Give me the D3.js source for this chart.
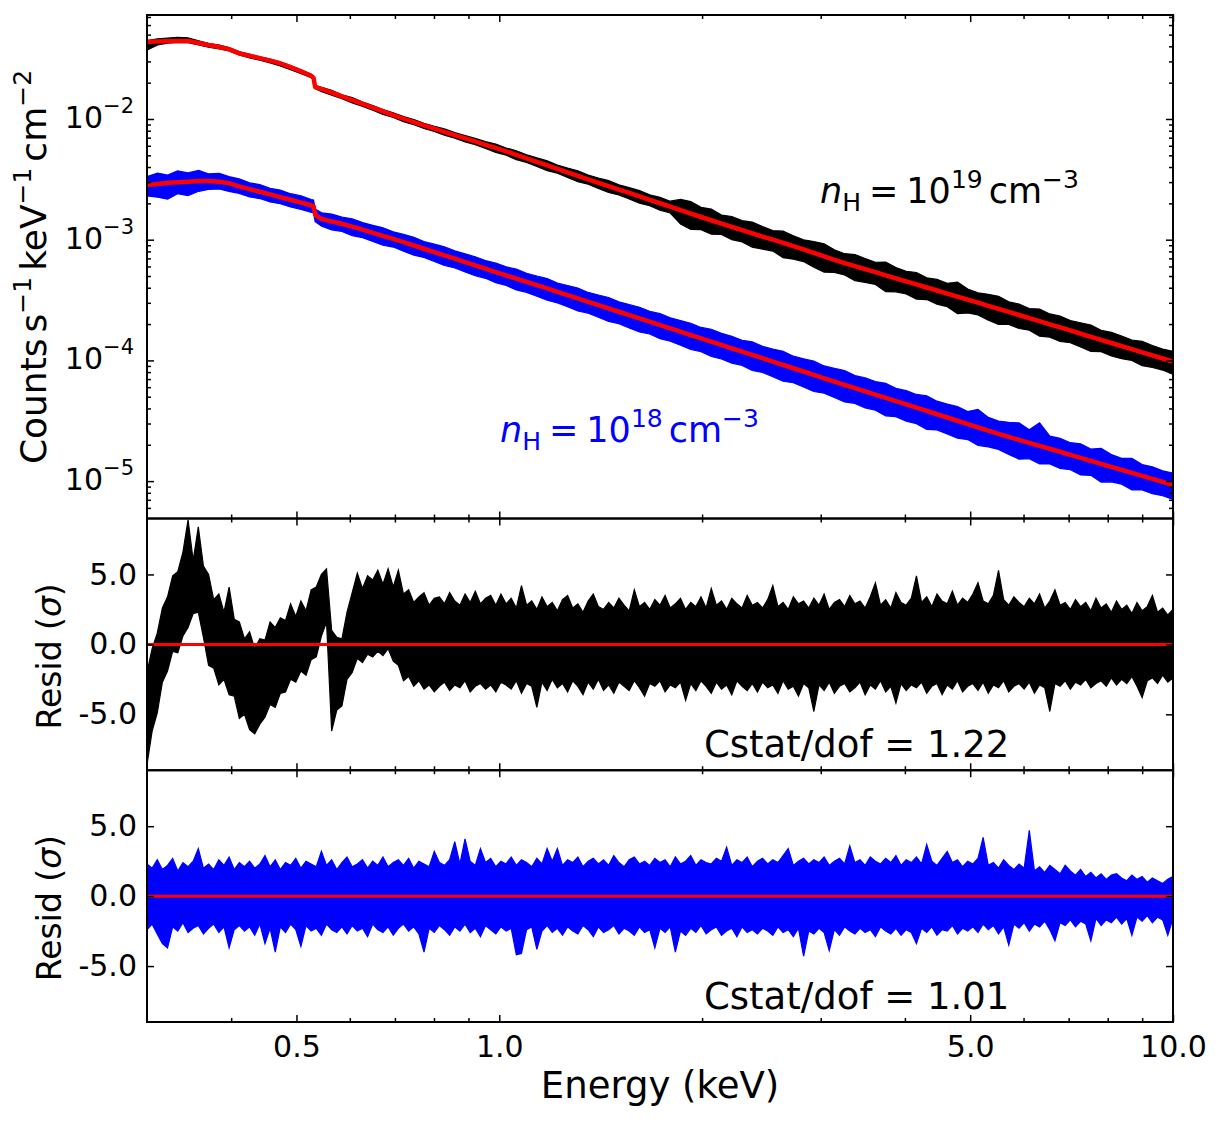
<!DOCTYPE html>
<html>
<head>
<meta charset="utf-8">
<script src="https://cdn.jsdelivr.net/npm/d3@7"></script>
<style>
  body { margin: 0; background: #fff; }
  text { font-family: "DejaVu Sans", sans-serif; }
</style>
</head>
<body>
<svg id="chart" width="1226" height="1123"></svg>
<script>
// energy grid of the spectra (keV), two extra points bracket the 0.532 keV edge
const energy = [
  0.300, 0.311, 0.322, 0.333, 0.345, 0.358, 0.370, 0.384, 0.397, 0.411,
  0.426, 0.441, 0.457, 0.473, 0.490, 0.508, 0.526, 0.530, 0.533, 0.545,
  0.564, 0.584, 0.605, 0.627, 0.649, 0.672, 0.696, 0.721, 0.747, 0.773,
  0.801, 0.829, 0.859, 0.890, 0.921, 0.954, 0.988, 1.024, 1.060, 1.098,
  1.137, 1.178, 1.220, 1.263, 1.308, 1.355, 1.403, 1.453, 1.505, 1.559,
  1.615, 1.672, 1.732, 1.794, 1.858, 1.924, 1.993, 2.064, 2.137, 2.214,
  2.293, 2.374, 2.459, 2.547, 2.638, 2.732, 2.829, 2.930, 3.035, 3.143,
  3.255, 3.372, 3.492, 3.617, 3.746, 3.879, 4.018, 4.161, 4.310, 4.463,
  4.623, 4.788, 4.958, 5.135, 5.319, 5.508, 5.705, 5.909, 6.119, 6.338,
  6.564, 6.798, 7.041, 7.292, 7.552, 7.822, 8.101, 8.390, 8.689, 8.999,
  9.320, 9.653, 10.00
];

// model, log10(counts s^-1 keV^-1 cm^-2), nH = 1e19
const blackModelLog = [
  -1.360, -1.357, -1.355, -1.353, -1.353, -1.370, -1.387, -1.404, -1.421, -1.456,
  -1.476, -1.496, -1.516, -1.538, -1.571, -1.606, -1.642, -1.659, -1.735, -1.753,
  -1.781, -1.813, -1.843, -1.875, -1.906, -1.937, -1.968, -1.998, -2.026, -2.053,
  -2.080, -2.106, -2.133, -2.160, -2.186, -2.214, -2.240, -2.268, -2.297, -2.326,
  -2.355, -2.384, -2.413, -2.442, -2.471, -2.500, -2.529, -2.557, -2.585, -2.613,
  -2.642, -2.670, -2.698, -2.727, -2.756, -2.784, -2.812, -2.839, -2.866, -2.893,
  -2.920, -2.947, -2.974, -3.000, -3.027, -3.054, -3.081, -3.109, -3.138, -3.167,
  -3.194, -3.219, -3.244, -3.269, -3.295, -3.320, -3.346, -3.370, -3.396, -3.421,
  -3.447, -3.471, -3.497, -3.522, -3.548, -3.573, -3.598, -3.624, -3.650, -3.675,
  -3.701, -3.727, -3.752, -3.778, -3.805, -3.830, -3.856, -3.882, -3.907, -3.933,
  -3.959, -3.984, -4.011
];
// model, nH = 1e18
const blueModelLog = [
  -2.547, -2.538, -2.529, -2.524, -2.519, -2.514, -2.514, -2.520, -2.532, -2.558,
  -2.581, -2.603, -2.625, -2.647, -2.669, -2.693, -2.715, -2.721, -2.795, -2.829,
  -2.848, -2.868, -2.892, -2.917, -2.943, -2.968, -2.993, -3.020, -3.048, -3.075,
  -3.103, -3.130, -3.157, -3.186, -3.213, -3.240, -3.268, -3.295, -3.322, -3.350,
  -3.377, -3.404, -3.433, -3.460, -3.487, -3.515, -3.542, -3.569, -3.597, -3.625,
  -3.652, -3.679, -3.707, -3.735, -3.762, -3.790, -3.817, -3.844, -3.872, -3.900,
  -3.927, -3.954, -3.982, -4.010, -4.037, -4.065, -4.092, -4.120, -4.148, -4.175,
  -4.202, -4.230, -4.257, -4.283, -4.311, -4.338, -4.365, -4.392, -4.419, -4.446,
  -4.473, -4.500, -4.528, -4.555, -4.582, -4.608, -4.633, -4.658, -4.683, -4.708,
  -4.732, -4.757, -4.782, -4.807, -4.832, -4.858, -4.882, -4.907, -4.932, -4.957,
  -4.982, -5.007, -5.032
];

// spread of the data above / below the model (dex)
const blackUp = [
  0.010, 0.022, 0.026, 0.030, 0.026, 0.018, 0.014, 0.016, 0.012, 0.014,
  0.012, 0.010, 0.012, 0.010, 0.014, 0.012, 0.012, 0.012, 0.012, 0.016,
  0.018, 0.014, 0.020, 0.016, 0.018, 0.015, 0.020, 0.018, 0.022, 0.018,
  0.020, 0.024, 0.020, 0.022, 0.025, 0.026, 0.032, 0.028, 0.034, 0.030,
  0.033, 0.038, 0.032, 0.036, 0.042, 0.036, 0.040, 0.046, 0.040, 0.044,
  0.048, 0.042, 0.050, 0.046, 0.090, 0.100, 0.080, 0.092, 0.070, 0.085,
  0.078, 0.092, 0.082, 0.075, 0.098, 0.086, 0.080, 0.094, 0.104, 0.084,
  0.078, 0.096, 0.088, 0.082, 0.110, 0.090, 0.084, 0.098, 0.080, 0.092,
  0.086, 0.120, 0.088, 0.082, 0.096, 0.104, 0.084, 0.090, 0.080, 0.100,
  0.086, 0.094, 0.082, 0.090, 0.098, 0.080, 0.088, 0.084, 0.076, 0.090,
  0.082, 0.078, 0.086
];
const blackDown = [
  0.070, 0.030, 0.016, 0.012, 0.014, 0.016, 0.018, 0.015, 0.016, 0.014,
  0.018, 0.016, 0.020, 0.022, 0.020, 0.018, 0.016, 0.014, 0.014, 0.020,
  0.022, 0.018, 0.024, 0.020, 0.022, 0.026, 0.020, 0.024, 0.022, 0.026,
  0.024, 0.028, 0.025, 0.030, 0.026, 0.030, 0.036, 0.032, 0.040, 0.034,
  0.038, 0.044, 0.036, 0.042, 0.048, 0.040, 0.046, 0.052, 0.044, 0.050,
  0.056, 0.048, 0.058, 0.052, 0.115, 0.130, 0.105, 0.115, 0.090, 0.106,
  0.098, 0.115, 0.104, 0.094, 0.122, 0.108, 0.100, 0.118, 0.130, 0.104,
  0.098, 0.120, 0.110, 0.102, 0.136, 0.112, 0.104, 0.122, 0.100, 0.114,
  0.108, 0.142, 0.110, 0.102, 0.118, 0.128, 0.104, 0.112, 0.100, 0.124,
  0.106, 0.116, 0.102, 0.110, 0.120, 0.098, 0.108, 0.104, 0.094, 0.110,
  0.100, 0.096, 0.104
];
const blueUp = [
  0.070, 0.090, 0.065, 0.095, 0.072, 0.088, 0.060, 0.070, 0.055, 0.062,
  0.052, 0.060, 0.050, 0.058, 0.050, 0.056, 0.048, 0.050, 0.050, 0.052,
  0.060, 0.056, 0.064, 0.058, 0.062, 0.066, 0.058, 0.064, 0.068, 0.060,
  0.066, 0.070, 0.064, 0.068, 0.072, 0.068, 0.074, 0.070, 0.078, 0.072,
  0.076, 0.082, 0.074, 0.080, 0.086, 0.078, 0.084, 0.090, 0.082, 0.088,
  0.092, 0.086, 0.094, 0.088, 0.092, 0.098, 0.090, 0.102, 0.096, 0.100,
  0.094, 0.108, 0.098, 0.104, 0.112, 0.100, 0.106, 0.114, 0.102, 0.110,
  0.118, 0.104, 0.112, 0.108, 0.122, 0.106, 0.114, 0.110, 0.126, 0.108,
  0.112, 0.118, 0.104, 0.150, 0.110, 0.106, 0.120, 0.140, 0.108, 0.190,
  0.104, 0.112, 0.100, 0.116, 0.098, 0.130, 0.102, 0.096, 0.120, 0.094,
  0.100, 0.092, 0.098
];
const blueDown = [
  0.090, 0.110, 0.135, 0.095, 0.115, 0.085, 0.070, 0.060, 0.068, 0.058,
  0.064, 0.056, 0.062, 0.055, 0.060, 0.056, 0.058, 0.055, 0.055, 0.060,
  0.070, 0.064, 0.074, 0.066, 0.072, 0.078, 0.068, 0.076, 0.080, 0.072,
  0.078, 0.084, 0.076, 0.082, 0.086, 0.080, 0.088, 0.084, 0.094, 0.086,
  0.092, 0.098, 0.090, 0.096, 0.104, 0.094, 0.100, 0.108, 0.098, 0.106,
  0.112, 0.102, 0.114, 0.106, 0.112, 0.120, 0.110, 0.124, 0.116, 0.122,
  0.114, 0.130, 0.118, 0.126, 0.136, 0.120, 0.128, 0.138, 0.124, 0.132,
  0.142, 0.126, 0.136, 0.130, 0.148, 0.128, 0.138, 0.132, 0.152, 0.130,
  0.136, 0.144, 0.128, 0.150, 0.134, 0.130, 0.146, 0.160, 0.132, 0.150,
  0.126, 0.138, 0.124, 0.142, 0.120, 0.150, 0.124, 0.118, 0.140, 0.116,
  0.122, 0.114, 0.120
];

// energy grid of the residuals (keV)
const residEnergy = [
  0.3000, 0.3053, 0.3107, 0.3162, 0.3218, 0.3275, 0.3333, 0.3392, 0.3452, 0.3513,
  0.3575, 0.3638, 0.3703, 0.3768, 0.3835, 0.3903, 0.3972, 0.4042, 0.4113, 0.4186,
  0.4260, 0.4335, 0.4412, 0.4490, 0.4569, 0.4650, 0.4732, 0.4816, 0.4901, 0.4988,
  0.5076, 0.5166, 0.5257, 0.5350, 0.5445, 0.5541, 0.5639, 0.5739, 0.5840, 0.5943,
  0.6049, 0.6156, 0.6265, 0.6376, 0.6488, 0.6603, 0.6720, 0.6839, 0.6960, 0.7083,
  0.7208, 0.7336, 0.7465, 0.7597, 0.7732, 0.7869, 0.8008, 0.8150, 0.8293, 0.8440,
  0.8589, 0.8741, 0.8896, 0.9053, 0.9213, 0.9376, 0.9542, 0.9711, 0.9882, 1.0057,
  1.0235, 1.0416, 1.0600, 1.0788, 1.0978, 1.1172, 1.1370, 1.1571, 1.1776, 1.1984,
  1.2196, 1.2412, 1.2631, 1.2854, 1.3082, 1.3313, 1.3549, 1.3789, 1.4032, 1.4280,
  1.4533, 1.4790, 1.5052, 1.5318, 1.5589, 1.5865, 1.6145, 1.6431, 1.6721, 1.7017,
  1.7318, 1.7624, 1.7936, 1.8253, 1.8576, 1.8905, 1.9239, 1.9579, 1.9926, 2.0278,
  2.0637, 2.1002, 2.1373, 2.1751, 2.2136, 2.2528, 2.2926, 2.3332, 2.3744, 2.4164,
  2.4591, 2.5026, 2.5469, 2.5919, 2.6378, 2.6845, 2.7319, 2.7802, 2.8294, 2.8795,
  2.9304, 2.9822, 3.0349, 3.0886, 3.1432, 3.1988, 3.2554, 3.3130, 3.3716, 3.4313,
  3.4919, 3.5537, 3.6165, 3.6805, 3.7455, 3.8118, 3.8792, 3.9478, 4.0176, 4.0887,
  4.1610, 4.2346, 4.3095, 4.3857, 4.4633, 4.5423, 4.6226, 4.7044, 4.7875, 4.8722,
  4.9584, 5.0461, 5.1353, 5.2262, 5.3186, 5.4127, 5.5084, 5.6059, 5.7049, 5.8059,
  5.9085, 6.0130, 6.1193, 6.2276, 6.3377, 6.4498, 6.5638, 6.6799, 6.7980, 6.9183,
  7.0406, 7.1652, 7.2918, 7.4208, 7.5520, 7.6856, 7.8215, 7.9599, 8.1006, 8.2439,
  8.3896, 8.5380, 8.6890, 8.8427, 8.9990, 9.1582, 9.3201, 9.4850, 9.6527, 9.8235,
  10.000
];

// residual envelopes (sigma), nH = 1e19
const blackResHi = [
  -2.0, -0.3, 0.8, 2.6, 3.4, 4.9, 5.2, 6.6, 8.9, 6.0,
  8.4, 5.6, 5.0, 3.2, 3.6, 2.3, 4.1, 1.8, 1.6, 0.4,
  0.9, -0.3, 0.4, 0.3, 1.6, 1.2, 1.9, 1.7, 2.9, 2.0,
  3.1, 2.4, 3.9, 4.1, 5.0, 5.4, 1.0, 0.5, 0.4, 2.3,
  3.7, 5.1, 4.0, 4.9, 4.6, 5.3, 4.3, 5.4, 4.1, 5.3,
  3.6, 3.9, 3.0, 3.4, 3.7, 2.8, 3.3, 3.4, 2.9, 3.7,
  3.1, 2.8, 3.6, 3.0, 3.8, 2.9, 3.3, 3.5, 2.8, 3.6,
  2.9, 3.3, 2.6, 4.2, 2.8, 3.1, 2.5, 3.4, 2.7, 3.0,
  2.4, 3.2, 3.5, 2.6, 2.9, 2.3, 3.1, 3.6, 2.7, 2.5,
  3.0, 2.6, 3.3, 2.8, 2.4, 3.9, 2.7, 3.0, 2.5, 3.2,
  2.8, 3.5, 2.6, 2.9, 3.3, 2.5, 3.0, 2.7, 3.4, 2.6,
  4.0, 2.8, 3.1, 2.5, 3.3, 2.9, 2.6, 3.5, 2.8, 3.0,
  2.6, 3.2, 4.2, 2.7, 3.0, 2.5, 3.4, 2.9, 3.1, 2.6,
  3.3, 2.8, 3.6, 2.5, 3.0, 3.2, 2.7, 3.5, 2.9, 3.1,
  2.6, 3.4, 4.4, 2.8, 3.2, 2.6, 3.7, 3.0, 2.8, 3.3,
  4.9, 3.0, 3.4, 2.7, 3.6, 3.1, 2.9, 3.8, 2.8, 3.3,
  3.0, 3.6, 4.4, 3.1, 2.9, 3.5, 5.3, 3.2, 2.8, 3.4,
  3.0, 2.7, 3.3, 2.9, 3.6, 2.6, 3.1, 3.9, 2.8, 3.0,
  2.5, 3.2, 2.7, 3.0, 2.4, 3.3, 2.6, 2.9, 2.3, 3.1,
  2.5, 2.8, 2.2, 3.0, 2.4, 2.7, 3.5, 2.3, 2.6, 2.1,
  2.5
];
const blackResLo = [
  -8.6, -6.2, -4.9, -2.7, -1.9, -0.5, -0.6, 0.6, 1.2, 2.2,
  2.3, 0.5, -1.5, -1.7, -2.9, -2.5, -3.6, -3.7, -5.3, -5.0,
  -6.1, -6.4, -5.7, -5.2, -4.3, -4.5, -3.5, -3.4, -2.5, -2.7,
  -1.9, -2.2, -1.1, -0.9, 0.6, 1.6, -6.2, -4.7, -4.4, -2.5,
  -2.0, -1.0, -1.3, -0.7, -0.9, -0.5, -0.8, -0.3, -1.2, -1.5,
  -2.6, -2.3, -3.0, -2.6, -3.2, -2.9, -3.4, -3.0, -2.7, -3.3,
  -2.9, -3.1, -2.6, -3.4, -3.0, -2.8, -3.2, -2.9, -3.4, -2.7,
  -2.9, -3.2, -2.6, -3.5, -2.8, -3.0, -4.5, -2.7, -3.3, -2.5,
  -3.1, -2.8, -3.4, -2.6, -3.0, -3.6, -2.7, -3.2, -2.5, -3.3,
  -2.9, -3.5, -2.7, -3.0, -3.3, -2.6, -3.1, -3.7, -2.8, -3.0,
  -2.6, -3.4, -2.9, -3.1, -2.7, -4.0, -2.8, -3.3, -2.6, -3.0,
  -3.5, -2.7, -3.2, -2.9, -3.6, -2.6, -3.0, -3.3, -2.8, -3.4,
  -2.7, -3.1, -2.9, -3.5, -2.6, -3.2, -3.0, -3.7, -2.8, -3.1,
  -4.8, -2.9, -3.3, -2.7, -3.5, -3.0, -2.8, -3.4, -3.1, -2.7,
  -3.6, -2.9, -3.2, -2.6, -3.4, -3.0, -4.2, -2.8, -3.3, -2.9,
  -3.1, -2.7, -3.5, -3.0, -2.8, -3.6, -2.9, -3.2, -2.6, -3.4,
  -3.0, -2.8, -3.3, -2.7, -3.5, -2.9, -3.1, -2.6, -3.4, -3.0,
  -2.8, -3.2, -2.7, -3.5, -2.9, -3.1, -4.8, -2.8, -3.0, -2.6,
  -3.2, -2.7, -2.9, -2.5, -3.1, -2.8, -2.6, -3.0, -2.4, -2.9,
  -2.5, -2.8, -2.3, -3.0, -3.8, -2.6, -2.4, -2.8, -2.2, -2.7,
  -2.4
];
// residual envelopes (sigma), nH = 1e18
const blueResHi = [
  2.3, 2.0, 2.6, 1.9, 2.2, 2.7, 1.8, 2.4, 2.1, 2.5,
  3.4, 2.0, 2.3, 1.9, 2.6, 2.2, 2.8, 1.9, 2.4, 2.1,
  2.5, 2.0, 2.3, 2.9, 2.1, 2.6, 1.9, 2.4, 2.2, 2.7,
  2.0, 2.5, 2.3, 2.1, 3.2, 2.2, 2.6, 1.9, 2.4, 2.8,
  2.1, 2.3, 2.6, 2.0, 2.5, 2.2, 2.8, 2.1, 2.4, 2.6,
  2.2, 2.7, 2.0, 2.5, 2.3, 2.1, 3.2, 2.4, 2.2, 2.6,
  3.9, 2.3, 4.1, 2.5, 2.2, 3.4, 2.4, 2.7, 2.1, 2.5,
  2.3, 2.8, 2.2, 2.6, 2.4, 2.1, 2.7, 2.3, 3.4, 2.5,
  3.4, 2.2, 2.6, 2.4, 2.8, 2.1, 2.5, 2.7, 2.3, 2.6,
  2.2, 2.9, 2.4, 2.1, 2.6, 2.8, 2.3, 2.5, 2.2, 2.7,
  2.4, 2.6, 2.1, 2.8, 2.3, 2.5, 2.9, 2.2, 2.6, 2.4,
  2.3, 2.7, 2.5, 3.5, 2.2, 2.6, 2.4, 2.8, 2.1, 2.5,
  2.7, 2.3, 2.6, 2.4, 2.9, 3.4, 2.2, 2.5, 2.7, 2.3,
  2.6, 2.4, 2.8, 2.2, 2.5, 2.7, 2.3, 3.6, 2.4, 2.6,
  2.2, 2.8, 2.5, 2.3, 2.7, 2.4, 2.9, 2.2, 2.6, 2.4,
  2.8, 2.3, 3.7, 2.5, 2.2, 2.7, 3.2, 2.4, 2.6, 2.1,
  2.5, 2.3, 2.7, 4.2, 2.2, 2.4, 2.0, 2.6, 2.2, 1.9,
  2.3, 2.0, 4.7, 1.8, 2.1, 1.7, 2.2, 1.9, 1.6, 2.2,
  1.8, 1.5, 1.9, 1.4, 1.7, 1.3, 1.6, 1.2, 1.5, 1.6,
  1.3, 1.1, 1.5, 1.2, 1.4, 1.0, 1.3, 1.1, 0.9, 1.2,
  1.4
];
const blueResLo = [
  -2.4, -2.0, -2.7, -3.4, -3.7, -2.2, -2.5, -1.9, -2.6, -2.3,
  -2.1, -2.7, -2.3, -2.0, -2.6, -2.2, -3.7, -2.4, -2.1, -2.5,
  -2.2, -2.8, -2.0, -3.4, -2.3, -4.0, -2.2, -2.6, -2.0, -2.4,
  -3.6, -2.1, -2.5, -2.3, -2.8, -2.0, -2.4, -2.6, -2.2, -2.7,
  -2.1, -2.5, -2.3, -2.9, -2.0, -2.4, -2.6, -2.2, -2.8, -2.3,
  -2.0, -2.5, -2.2, -2.7, -4.0, -2.3, -2.6, -2.1, -2.4, -2.8,
  -2.2, -2.5, -2.0, -2.6, -2.3, -2.9, -2.1, -2.4, -2.7, -2.2,
  -2.5, -2.3, -4.2, -4.1, -2.4, -2.2, -3.8, -2.5, -2.1, -2.6,
  -2.3, -2.8, -2.2, -2.5, -2.7, -2.1, -2.4, -2.9, -2.2, -2.6,
  -2.4, -2.1, -2.7, -2.3, -2.5, -2.8, -2.2, -2.6, -2.4, -3.7,
  -2.3, -2.6, -2.2, -4.0, -2.5, -2.8, -2.3, -2.6, -2.1, -2.7,
  -2.4, -2.2, -2.8, -2.5, -2.3, -2.9, -2.2, -2.6, -2.4, -2.7,
  -2.3, -2.5, -2.8, -2.2, -2.6, -2.4, -2.9, -2.3, -4.3, -2.5,
  -2.7, -2.3, -2.6, -3.9, -2.4, -2.8, -2.2, -2.5, -2.7, -2.3,
  -2.6, -2.4, -2.9, -2.2, -2.5, -2.7, -2.3, -2.8, -2.4, -2.6,
  -3.4, -2.3, -2.6, -2.2, -2.8, -2.4, -2.5, -2.1, -2.7, -2.3,
  -2.5, -2.2, -2.6, -2.0, -2.4, -2.1, -2.7, -2.2, -3.5, -2.0,
  -2.3, -1.9, -2.5, -2.0, -2.2, -1.8, -2.4, -3.2, -1.9, -2.1,
  -1.7, -2.2, -1.8, -2.0, -3.2, -1.6, -2.1, -1.7, -1.9, -1.5,
  -2.0, -1.6, -2.8, -1.5, -1.8, -1.4, -1.9, -1.5, -1.7, -2.8,
  -1.6
];

// ticks
const xMajor = [0.5, 1, 5, 10];
const xMajorLabels = ["0.5", "1.0", "5.0", "10.0"];
const xMinor = [0.4, 0.6, 0.7, 0.8, 0.9, 2, 3, 4, 6, 7, 8, 9];
const yTopMajor = [1e-2, 1e-3, 1e-4, 1e-5];
const yTopExp = ["−2", "−3", "−4", "−5"];
const yTopMinor = [
  6e-6, 7e-6, 8e-6, 9e-6, 2e-5, 3e-5, 4e-5, 5e-5, 6e-5, 7e-5, 8e-5, 9e-5,
  2e-4, 3e-4, 4e-4, 5e-4, 6e-4, 7e-4, 8e-4, 9e-4, 2e-3, 3e-3, 4e-3, 5e-3,
  6e-3, 7e-3, 8e-3, 9e-3, 2e-2, 3e-2, 4e-2, 5e-2, 6e-2, 7e-2
];
const residTicks = [-5, 0, 5];
const residLabels = ["-5.0", "0.0", "5.0"];

const svg = d3.select("#chart");
const left = 147, right = 1173;
const panels = [
  { top: 15, bottom: 518.5 },
  { top: 518.5, bottom: 770.25 },
  { top: 770.25, bottom: 1022 }
];

const x = d3.scaleLog().domain([0.3, 10]).range([left, right]);
const yTop = d3.scaleLog().domain([4.9e-6, 0.0727]).range([panels[0].bottom, panels[0].top]);
const yMid = d3.scaleLinear().domain([-9, 9]).range([panels[1].bottom, panels[1].top]);
const yBot = d3.scaleLinear().domain([-9, 9]).range([panels[2].bottom, panels[2].top]);

const pts = energy.map((e, i) => ({ e, i }));
const residPts = residEnergy.map((e, i) => ({ e, i }));
const p10 = v => Math.pow(10, v);

// clip paths
const defs = svg.append("defs");
panels.forEach((p, k) => {
  defs.append("clipPath").attr("id", "clip" + k)
    .append("rect")
    .attr("x", left).attr("y", p.top)
    .attr("width", right - left).attr("height", p.bottom - p.top);
});

// --- top panel: spectra ---
const gTop = svg.append("g").attr("clip-path", "url(#clip0)");

function specBand(model, up, dn, color) {
  const area = d3.area()
    .x(d => x(d.e))
    .y0(d => yTop(p10(model[d.i] - dn[d.i])))
    .y1(d => yTop(p10(model[d.i] + up[d.i])));
  gTop.append("path").datum(pts)
    .attr("d", area)
    .attr("fill", color)
    .attr("stroke", color)
    .attr("stroke-width", 1.2)
    .attr("stroke-linejoin", "miter");
}
specBand(blackModelLog, blackUp, blackDown, "#000000");
specBand(blueModelLog, blueUp, blueDown, "#0000ff");

const modelLine = model => d3.line()
  .x(d => x(d.e))
  .y(d => yTop(p10(model[d.i])));
[blackModelLog, blueModelLog].forEach(m => {
  gTop.append("path").datum(pts)
    .attr("d", modelLine(m))
    .attr("fill", "none")
    .attr("stroke", "#ff0000")
    .attr("stroke-width", 4.5)
    .attr("stroke-linejoin", "round");
});

// --- residual panels ---
function residPanel(k, yScale, hi, lo, color) {
  const g = svg.append("g").attr("clip-path", `url(#clip${k})`);
  const area = d3.area()
    .x(d => x(d.e))
    .y0(d => yScale(lo[d.i]))
    .y1(d => yScale(hi[d.i]));
  g.append("path").datum(residPts)
    .attr("d", area)
    .attr("fill", color)
    .attr("stroke", color)
    .attr("stroke-width", 1.2)
    .attr("stroke-linejoin", "miter");
  g.append("line")
    .attr("x1", left).attr("x2", right)
    .attr("y1", yScale(0)).attr("y2", yScale(0))
    .attr("stroke", "#ff0000")
    .attr("stroke-width", 3);
}
residPanel(1, yMid, blackResHi, blackResLo, "#000000");
residPanel(2, yBot, blueResHi, blueResLo, "#0000ff");

// --- axes ---
function styleAxis(g) {
  g.select(".domain").remove();
  g.selectAll(".tick line").attr("stroke", "#000").attr("stroke-width", 1.5);
  g.attr("font-family", "DejaVu Sans").attr("font-size", 30);
  g.selectAll(".tick text").attr("fill", "#000");
}

panels.forEach((p, k) => {
  const isLast = k === 2;
  // x ticks, bottom edge
  svg.append("g").attr("transform", `translate(0,${p.bottom})`)
    .call(d3.axisBottom(x).tickValues(xMajor).tickSize(-7).tickPadding(14)
      .tickFormat((d, i) => isLast ? xMajorLabels[i] : ""))
    .call(styleAxis);
  svg.append("g").attr("transform", `translate(0,${p.bottom})`)
    .call(d3.axisBottom(x).tickValues(xMinor).tickSize(-4).tickFormat(""))
    .call(styleAxis);
  // x ticks, top edge
  svg.append("g").attr("transform", `translate(0,${p.top})`)
    .call(d3.axisTop(x).tickValues(xMajor).tickSize(-7).tickFormat(""))
    .call(styleAxis);
  svg.append("g").attr("transform", `translate(0,${p.top})`)
    .call(d3.axisTop(x).tickValues(xMinor).tickSize(-4).tickFormat(""))
    .call(styleAxis);
});

// y ticks top panel (log)
[[d3.axisLeft, left], [d3.axisRight, right]].forEach(([ax, pos]) => {
  svg.append("g").attr("transform", `translate(${pos},0)`)
    .call(ax(yTop).tickValues(yTopMajor).tickSize(-7).tickFormat(""))
    .call(styleAxis);
  svg.append("g").attr("transform", `translate(${pos},0)`)
    .call(ax(yTop).tickValues(yTopMinor).tickSize(-4).tickFormat(""))
    .call(styleAxis);
});
const yLab = svg.append("g").attr("font-size", 30).attr("text-anchor", "end");
yTopMajor.forEach((v, i) => {
  const t = yLab.append("text")
    .attr("x", left - 13)
    .attr("y", yTop(v) + 9);
  t.append("tspan").text("10");
  t.append("tspan").attr("dy", -15).attr("font-size", 21).text(yTopExp[i]);
});

// y ticks residual panels
[yMid, yBot].forEach(ys => {
  svg.append("g").attr("transform", `translate(${left},0)`)
    .call(d3.axisLeft(ys).tickValues(residTicks).tickSize(-7).tickPadding(10)
      .tickFormat((d, i) => residLabels[i]))
    .call(styleAxis);
  svg.append("g").attr("transform", `translate(${right},0)`)
    .call(d3.axisRight(ys).tickValues(residTicks).tickSize(-7).tickFormat(""))
    .call(styleAxis);
});

// frames
panels.forEach(p => {
  svg.append("rect")
    .attr("x", left).attr("y", p.top)
    .attr("width", right - left).attr("height", p.bottom - p.top)
    .attr("fill", "none").attr("stroke", "#000").attr("stroke-width", 2);
});

// --- labels ---
svg.append("text")
  .attr("x", (left + right) / 2).attr("y", 1098)
  .attr("text-anchor", "middle").attr("font-size", 37)
  .text("Energy (keV)");

const countsLabel = svg.append("text")
  .attr("transform", "translate(46,267) rotate(-90)")
  .attr("text-anchor", "middle").attr("font-size", 36);
countsLabel.append("tspan").text("Counts");
countsLabel.append("tspan").attr("dx", 6).text("s");
countsLabel.append("tspan").attr("dy", -15).attr("font-size", 25).text("−1");
countsLabel.append("tspan").attr("dy", 15).attr("dx", 6).text("keV");
countsLabel.append("tspan").attr("dy", -15).attr("font-size", 25).text("−1");
countsLabel.append("tspan").attr("dy", 15).attr("dx", 6).text("cm");
countsLabel.append("tspan").attr("dy", -15).attr("font-size", 25).text("−2");

[yMid, yBot].forEach(ys => {
  const t = svg.append("text")
    .attr("transform", `translate(61,${ys(0) + 12}) rotate(-90)`)
    .attr("text-anchor", "middle").attr("font-size", 33);
  t.append("tspan").text("Resid (");
  t.append("tspan").attr("font-style", "italic").text("σ");
  t.append("tspan").text(")");
});

function nhLabel(xp, yp, exp, color) {
  const t = svg.append("text").attr("x", xp).attr("y", yp)
    .attr("font-size", 35).attr("fill", color);
  t.append("tspan").attr("font-style", "italic").text("n");
  t.append("tspan").attr("dy", 8).attr("font-size", 25).text("H");
  t.append("tspan").attr("dy", -8).attr("dx", 8).text("=");
  t.append("tspan").attr("dx", 8).text("10");
  t.append("tspan").attr("dy", -15).attr("font-size", 25).text(exp);
  t.append("tspan").attr("dy", 15).attr("dx", 6).text("cm");
  t.append("tspan").attr("dy", -15).attr("font-size", 25).text("−3");
}
nhLabel(820, 203, "19", "#000000");
nhLabel(500, 442, "18", "#0000ff");

svg.append("text").attr("x", 704).attr("y", 757)
  .attr("font-size", 37).text("Cstat/dof = 1.22");
svg.append("text").attr("x", 704).attr("y", 1009)
  .attr("font-size", 37).text("Cstat/dof = 1.01");
</script>
</body>
</html>
